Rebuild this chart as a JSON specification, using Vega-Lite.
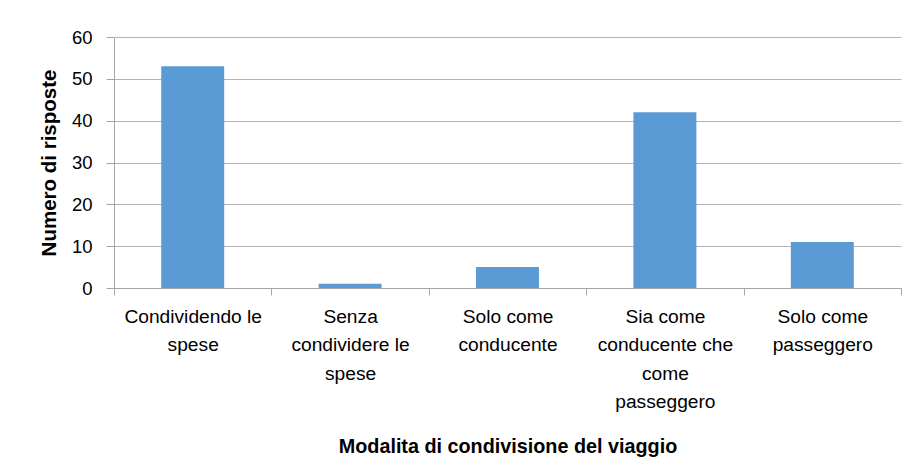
{
  "$schema": "https://vega.github.io/schema/vega-lite/v6.json",
  "autosize": "none",
  "width": 787,
  "height": 251,
  "padding": {"left": 114, "top": 37, "right": 13, "bottom": 182},
  "background": "white",
  "data": {"values": [
    {"modalita": "Condividendo le spese", "risposte": 53},
    {"modalita": "Senza condividere le spese", "risposte": 1},
    {"modalita": "Solo come conducente", "risposte": 5},
    {"modalita": "Sia come conducente che come passeggero", "risposte": 42},
    {"modalita": "Solo come passeggero", "risposte": 11}
  ]},
  "mark": {"type": "bar", "color": "#5B9BD5", "width": {"band": 0.4}},
  "encoding": {
    "x": {
      "field": "modalita", "type": "nominal", "sort": null,
      "scale": {"paddingInner": 0, "paddingOuter": 0},
      "axis": {
        "title": "Modalita di condivisione del viaggio",
        "labelAngle": 0,
        "tickBand": "extent",
        "labelExpr": "{'Condividendo le spese': ['Condividendo le','spese'], 'Senza condividere le spese': ['Senza','condividere le','spese'], 'Solo come conducente': ['Solo come','conducente'], 'Sia come conducente che come passeggero': ['Sia come','conducente che','come','passeggero'], 'Solo come passeggero': ['Solo come','passeggero']}[datum.label]",
        "labelFont": "Liberation Sans",
        "labelFontSize": 19.2,
        "labelLineHeight": 28.5,
        "labelColor": "#000000",
        "labelPadding": 12,
        "labelLimit": 300,
        "tickSize": 7,
        "tickColor": "#A6A6A6",
        "domainColor": "#A6A6A6",
        "grid": false,
        "titleFont": "Liberation Sans",
        "titleFontWeight": "bold",
        "titleFontSize": 19.8,
        "titleColor": "#000000",
        "titlePadding": 25
      }
    },
    "y": {
      "field": "risposte", "type": "quantitative",
      "scale": {"domain": [0, 60], "nice": false},
      "axis": {
        "title": "Numero di risposte",
        "values": [0, 10, 20, 30, 40, 50, 60],
        "labelFont": "Liberation Sans",
        "labelFontSize": 18.5,
        "labelColor": "#000000",
        "labelPadding": 14,
        "tickSize": 8,
        "tickColor": "#A6A6A6",
        "domainColor": "#A6A6A6",
        "grid": true,
        "gridColor": "#B3B3B3",
        "titleFont": "Liberation Sans",
        "titleFontWeight": "bold",
        "titleFontSize": 20.5,
        "titleColor": "#000000",
        "titlePadding": 12
      }
    }
  },
  "config": {"view": {"stroke": null}}
}
